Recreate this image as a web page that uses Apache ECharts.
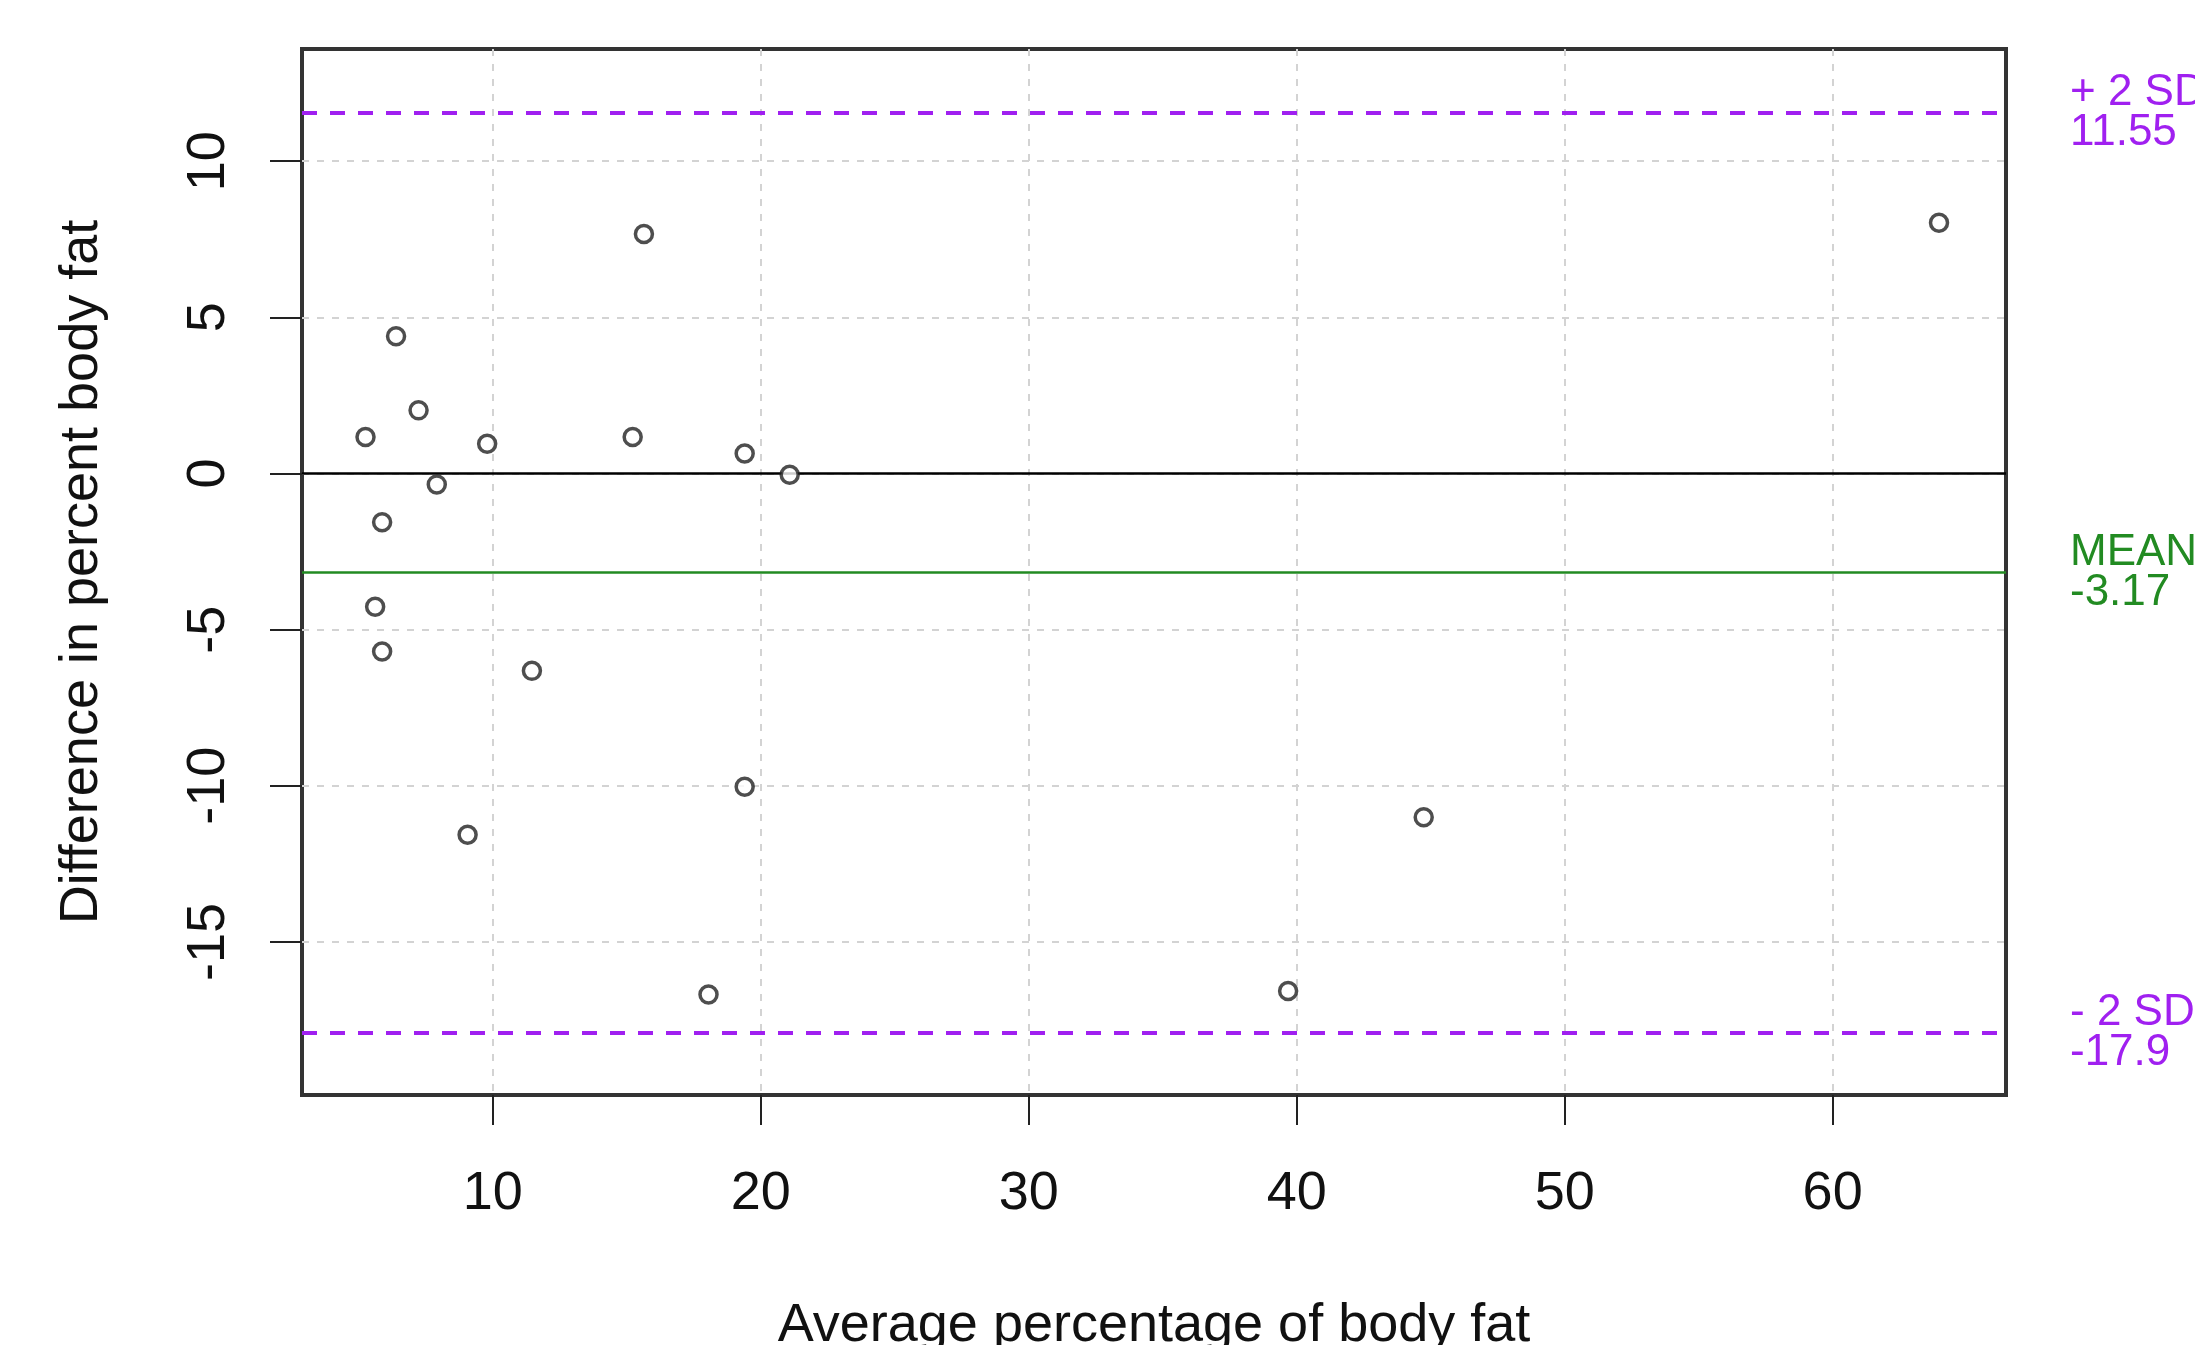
<!DOCTYPE html>
<html>
<head>
<meta charset="utf-8">
<script src="https://cdn.jsdelivr.net/npm/echarts@6/dist/echarts.min.js"></script>
<style>
html,body{margin:0;padding:0;background:#fff;}
#chart{width:2195px;height:1345px;}
</style>
</head>
<body>
<div id="chart"></div>
<script>
// Bland-Altman data: average vs difference in percent body fat
const avgFat = [5.25, 6.39, 7.23, 7.91, 5.87, 5.61, 5.87, 9.79, 11.46, 9.06, 15.22, 15.64, 19.40, 21.08, 19.40, 18.05, 39.68, 44.74, 63.97];
const diffFat = [1.17, 4.39, 2.02, -0.35, -1.56, -4.27, -5.70, 0.95, -6.32, -11.57, 1.17, 7.67, 0.64, -0.04, -10.03, -16.68, -16.57, -11.01, 8.03];
const meanDiff = -3.17;
const upperLimit = 11.55;
const lowerLimit = -17.9;
const xTicks = [10, 20, 30, 40, 50, 60];
const yTicks = [-15, -10, -5, 0, 5, 10];
const xTitle = 'Average percentage of body fat';
const yTitle = 'Difference in percent body fat';

const points = avgFat.map((x, i) => [x, diffFat[i]]);
const FONT = '"Liberation Sans", Arial, sans-serif';

const chart = echarts.init(document.getElementById('chart'));
chart.setOption({
  backgroundColor: '#fff',
  animation: false,
  grid: {
    left: 302, top: 49, width: 1704, height: 1046,
    containLabel: false, outerBoundsMode: 'none',
    show: true, borderColor: '#333', borderWidth: 4, backgroundColor: 'transparent'
  },
  xAxis: {
    type: 'value', min: 2.88, max: 66.47,
    name: xTitle, nameLocation: 'middle', nameGap: 204,
    nameTextStyle: { fontFamily: FONT, fontSize: 54, color: '#111' },
    axisLine: { show: false, onZero: false },
    axisTick: { show: true, inside: false, length: 30, customValues: xTicks, lineStyle: { color: '#222', width: 2 } },
    axisLabel: { show: true, customValues: xTicks, margin: 72, fontFamily: FONT, fontSize: 54, color: '#111' },
    splitLine: { show: true, lineStyle: { color: '#d3d3d3', width: 2, type: [7, 8] } }
  },
  yAxis: {
    type: 'value', min: -19.9, max: 13.59,
    name: yTitle, nameLocation: 'middle', nameGap: 193, nameRotate: 90,
    nameTextStyle: { fontFamily: FONT, fontSize: 54, color: '#111' },
    axisLine: { show: false, onZero: false },
    axisTick: { show: true, inside: false, length: 32, customValues: yTicks, lineStyle: { color: '#222', width: 2 } },
    axisLabel: { show: true, customValues: yTicks, rotate: 90, margin: 66, fontFamily: FONT, fontSize: 54, color: '#111' },
    splitLine: { show: true, lineStyle: { color: '#d3d3d3', width: 2, type: [7, 8] } }
  },
  series: [
    {
      type: 'scatter',
      data: points,
      symbol: 'circle',
      symbolSize: 17,
      itemStyle: { color: '#fff', borderColor: '#222', borderWidth: 3.5 },
      z: 5,
      markLine: {
        silent: true,
        symbol: ['none', 'none'],
        animation: false,
        data: [
          {
            yAxis: 0,
            lineStyle: { color: '#000', width: 2.5, type: 'solid' },
            label: { show: false }
          },
          {
            yAxis: meanDiff,
            lineStyle: { color: '#228B22', width: 2.5, type: 'solid' },
            label: { show: true, position: 'end', distance: 64, formatter: 'MEAN\n' + meanDiff,
              color: '#228B22', fontFamily: FONT, fontSize: 44, lineHeight: 40, align: 'left' }
          },
          {
            yAxis: upperLimit,
            lineStyle: { color: '#A020F0', width: 4, type: [15, 13] },
            label: { show: true, position: 'end', distance: 64, formatter: '+ 2 SD\n' + upperLimit,
              color: '#A020F0', fontFamily: FONT, fontSize: 44, lineHeight: 40, align: 'left' }
          },
          {
            yAxis: lowerLimit,
            lineStyle: { color: '#A020F0', width: 4, type: [15, 13] },
            label: { show: true, position: 'end', distance: 64, formatter: '- 2 SD\n' + lowerLimit,
              color: '#A020F0', fontFamily: FONT, fontSize: 44, lineHeight: 40, align: 'left' }
          }
        ]
      }
    }
  ]
});
</script>
</body>
</html>
